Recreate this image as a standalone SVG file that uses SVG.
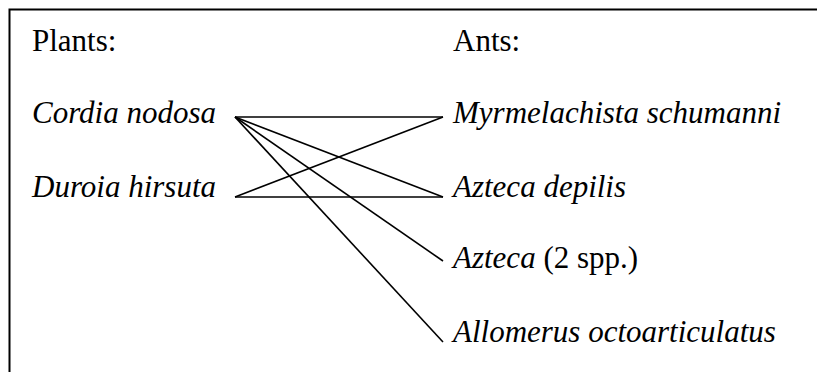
<svg xmlns="http://www.w3.org/2000/svg" width="817" height="372" viewBox="0 0 817 372">
<style>
.t{font-family:"Liberation Serif","Times New Roman",Times,serif;font-size:31px;fill:#000}
.i{font-style:italic}
#connectors line{stroke:#000;stroke-width:1.6}
</style>
<rect x="0" y="0" width="817" height="372" fill="#fff"/>
<path id="frame" d="M9.5,372 V9.5 H817" fill="none" stroke="#000" stroke-width="2"/>
<g id="headers">
<text class="t" x="32" y="51">Plants:</text>
<text class="t" x="453" y="51">Ants:</text>
</g>
<g id="cordia"><text class="t i" x="32" y="123">Cordia nodosa</text></g>
<g id="duroia"><text class="t i" x="32" y="197">Duroia hirsuta</text></g>
<g id="myrmelachista"><text class="t i" x="453" y="123">Myrmelachista schumanni</text></g>
<g id="azteca-depilis"><text class="t i" x="453" y="197">Azteca depilis</text></g>
<g id="azteca-2spp"><text class="t" x="453" y="268"><tspan class="i">Azteca</tspan> (2 spp.)</text></g>
<g id="allomerus"><text class="t i" x="453" y="342">Allomerus octoarticulatus</text></g>
<g id="connectors">
<line x1="235" y1="117" x2="443" y2="117"/>
<line x1="235" y1="117" x2="443" y2="197"/>
<line x1="235" y1="117" x2="443" y2="261"/>
<line x1="235" y1="117" x2="443" y2="342"/>
<line x1="235" y1="197" x2="443" y2="117"/>
<line x1="235" y1="197" x2="443" y2="197"/>
</g>
</svg>
